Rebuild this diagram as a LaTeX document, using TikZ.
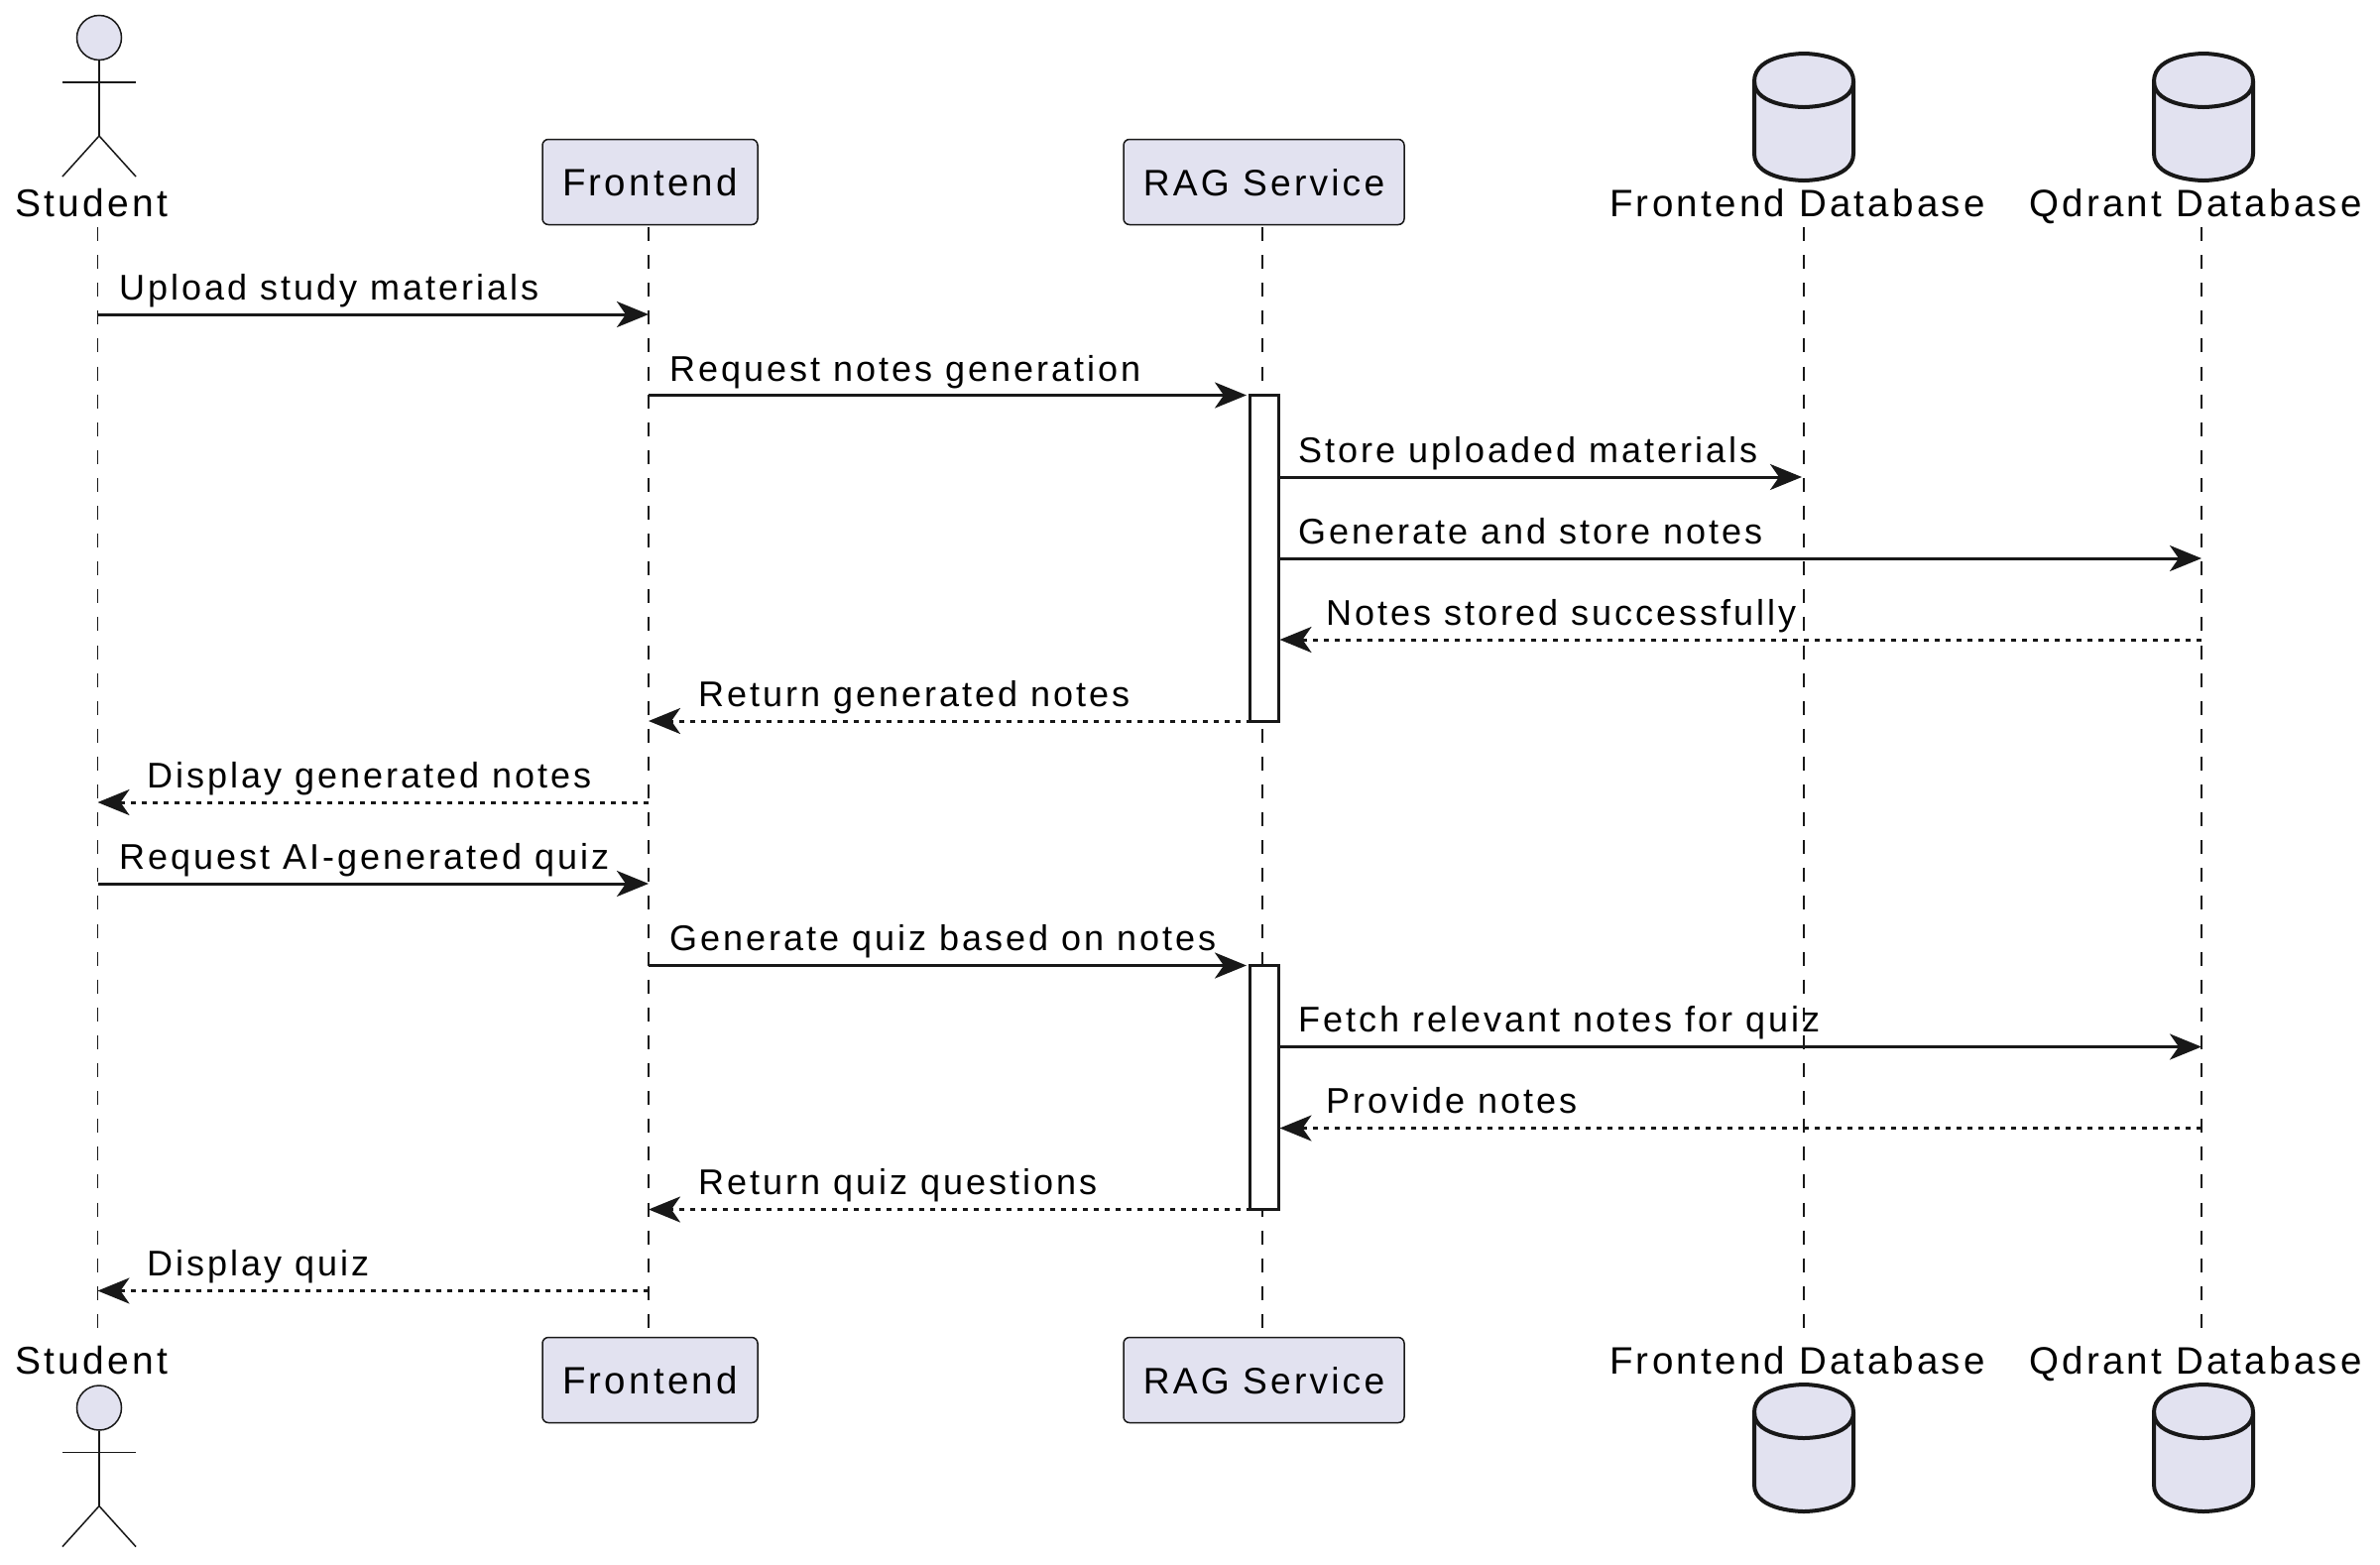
\documentclass[tikz,border=0pt]{standalone}
\usepackage{fontspec}
\setmainfont{Liberation Sans}
\usetikzlibrary{arrows.meta}
\definecolor{ink}{HTML}{181818}
\definecolor{pfill}{HTML}{E2E2F0}
\newcommand{\msgfont}{\fontsize{36}{42}\selectfont\addfontfeature{LetterSpace=8.3}}
\newcommand{\hdrfont}[1]{\fontsize{#1}{44}\selectfont\addfontfeature{LetterSpace=8.5}}
\tikzset{
  x=1pt,y=-1pt,
  txt/.style={inner sep=0pt,anchor=base west,text=black,font=\msgfont},
  htxt/.style={txt,font=\hdrfont{38.5}},
  pbox/.style={draw=ink,fill=pfill,line width=1.5pt,rounded corners=6pt,inner sep=0pt,
    minimum height=86pt,text height=27pt,text depth=0pt,text=black,font=\hdrfont{38.5}},
  life/.style={draw=ink,line width=1.4pt,dash pattern=on 14.05pt off 14.05pt},
  msg/.style={draw=ink,line width=3pt,-{Stealth[length=32pt,width=26pt,inset=9pt,fill=ink]}},
  ret/.style={msg,dash pattern=on 5.5pt off 5.5pt},
  act/.style={draw=ink,fill=white,line width=3pt,minimum width=29pt,inner sep=0pt},
  stick/.style={draw=ink,line width=1.5pt},
  head/.style={circle,draw=ink,fill=pfill,line width=1.5pt,minimum size=45pt,inner sep=0pt},
  dbs/.style={draw=ink,fill=pfill,line width=4pt},
  dbl/.style={draw=ink,line width=4pt},
}
\newcommand{\dbshape}[3]{% centre x, half width, top y
  \path[dbs] (#1-#2,#3+28) .. controls (#1-#2,#3) and (#1,#3) .. (#1,#3)
     .. controls (#1,#3) and (#1+#2,#3) .. (#1+#2,#3+28)
     -- (#1+#2,#3+101) .. controls (#1+#2,#3+128) and (#1,#3+128) .. (#1,#3+128)
     .. controls (#1,#3+128) and (#1-#2,#3+128) .. (#1-#2,#3+101) -- cycle;
  \path[dbl] (#1-#2,#3+28) .. controls (#1-#2,#3+54) and (#1,#3+54) .. (#1,#3+54)
     .. controls (#1,#3+54) and (#1+#2,#3+54) .. (#1+#2,#3+28);
}
\newcommand{\stickman}[2]{% name, head centre y
  \node[head] (#1) at (100,#2) {};
  \coordinate (#1hip) at (100,#2+99);
  \coordinate (#1arm) at (100,#2+45);
  \draw[stick] (#1.south) -- (#1hip);
  \draw[stick] (63,#2+45) -- (137,#2+45);
  \draw[stick] (63,#2+140) -- (#1hip) -- (137,#2+140);
}
\begin{document}
\begin{tikzpicture}
\useasboundingbox (0,0) rectangle (2400,1577);
\fill[white] (0,0) rectangle (2400,1577);
% lifeline guides
\coordinate (top) at (0,229);
\coordinate (bot) at (0,1343);
\coordinate (lS) at (98.5,0);
\coordinate (lF) at (654,0);
\coordinate (lR) at (1273,0);
\coordinate (lD) at (1819,0);
\coordinate (lQ) at (2220,0);
\foreach \l in {lS,lF,lR,lD,lQ} \draw[life] (\l|-top) -- (\l|-bot);
% rows
\foreach \i/\y in {1/317,2/398.5,3/481,4/563,5/645,6/727,7/809,8/891,9/973.5,10/1055.5,11/1137.5,12/1219.5,13/1301.5}
  \coordinate (r\i) at (0,\y);
% participants
\stickman{stuA}{38}
\stickman{stuB}{1419.5}
\node[htxt,font=\hdrfont{39}] (stuT) at (15,218.5) {Student};
\node[htxt,font=\hdrfont{39}] (stuU) at (15,1385) {Student};
\node[pbox,minimum width=217pt] (feA) at (655.5,183.5) {Frontend};
\node[pbox,minimum width=217pt] (feB) at (655.5,1391.5) {Frontend};
\node[pbox,minimum width=283pt,font=\hdrfont{37.2}] (ragA) at (1274.5,183.5) {RAG Service};
\node[pbox,minimum width=283pt,font=\hdrfont{37.2}] (ragB) at (1274.5,1391.5) {RAG Service};
\dbshape{1819}{50}{54}
\dbshape{2222}{50}{54}
\dbshape{1819}{50}{1396}
\dbshape{2222}{50}{1396}
\node[htxt] (fdbT) at (1623,218.5) {Frontend Database};
\node[htxt] (qdbT) at (2046,218.5) {Qdrant Database};
\node[htxt] (fdbU) at (1623,1385) {Frontend Database};
\node[htxt] (qdbU) at (2046,1385) {Qdrant Database};
% activations
\node[act,minimum height=329pt] (actA) at (1274.5,563) {};
\node[act,minimum height=246pt] (actB) at (1274.5,1096.5) {};
% messages
\draw[msg] (lS|-r1) -- (lF|-r1);
\draw[msg,shorten >=1.5pt] (lF|-r2) -- (actA.west|-r2);
\draw[msg,shorten >=2pt] (actA.east|-r3) -- (lD|-r3);
\draw[msg] (actA.east|-r4) -- (lQ|-r4);
\draw[ret] (lQ|-r5) -- (actA.east|-r5);
\draw[ret] (lR|-r6) -- (lF|-r6);
\draw[ret] (lF|-r7) -- (lS|-r7);
\draw[msg] (lS|-r8) -- (lF|-r8);
\draw[msg,shorten >=1.5pt] (lF|-r9) -- (actB.west|-r9);
\draw[msg] (actB.east|-r10) -- (lQ|-r10);
\draw[ret] (lQ|-r11) -- (actB.east|-r11);
\draw[ret] (lR|-r12) -- (lF|-r12);
\draw[ret] (lF|-r13) -- (lS|-r13);
% labels
\node[txt] (m1) at (120,302) {Upload study materials};
\node[txt] (m2) at (675,384) {Request notes generation};
\node[txt] (m3) at (1309,466) {Store uploaded materials};
\node[txt] (m4) at (1309,548) {Generate and store notes};
\node[txt] (m5) at (1337,630) {Notes stored successfully};
\node[txt] (m6) at (704,712) {Return generated notes};
\node[txt] (m7) at (148,794) {Display generated notes};
\node[txt] (m8) at (120,876) {Request AI-generated quiz};
\node[txt] (m9) at (675,958.5) {Generate quiz based on notes};
\node[txt] (m10) at (1309,1040.5) {Fetch relevant notes for quiz};
\node[txt] (m11) at (1337,1122.5) {Provide notes};
\node[txt] (m12) at (704,1204.5) {Return quiz questions};
\node[txt] (m13) at (148,1286.5) {Display quiz};
\end{tikzpicture}
\end{document}
